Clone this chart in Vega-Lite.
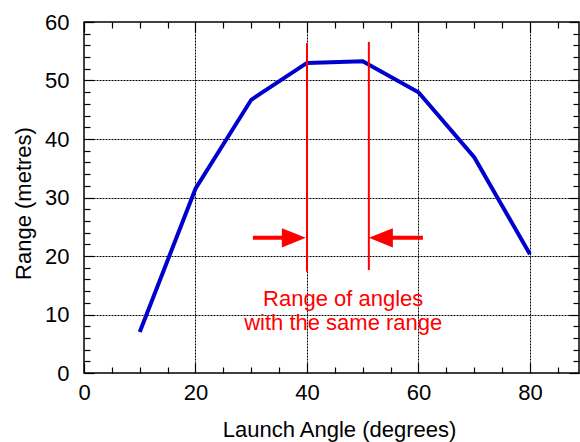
{
  "$schema": "https://vega.github.io/schema/vega-lite/v6.json",
  "width": 495,
  "height": 351,
  "autosize": {"type": "none"},
  "padding": {"left": 84, "top": 22, "right": 1, "bottom": 69},
  "config": {
    "view": {"stroke": "black", "strokeWidth": 1.5},
    "font": "Liberation Sans",
    "axis": {
      "domain": false,
      "tickColor": "black",
      "tickWidth": 1.2,
      "gridColor": "black",
      "gridDash": [2, 1],
      "gridWidth": 1,
      "labelFontSize": 22,
      "labelColor": "black",
      "titleFontSize": 22,
      "titleColor": "black",
      "titleFontWeight": "normal",
      "labelFlush": false,
      "labelOverlap": false
    }
  },
  "resolve": {"axis": {"x": "independent", "y": "independent"}},
  "layer": [
    {
      "data": {"values": [
        {"angle": 10, "range": 7.0},
        {"angle": 20, "range": 31.5},
        {"angle": 30, "range": 46.7},
        {"angle": 40, "range": 53.0},
        {"angle": 50, "range": 53.3},
        {"angle": 60, "range": 48.0},
        {"angle": 70, "range": 36.9},
        {"angle": 80, "range": 20.3}
      ]},
      "mark": {"type": "line", "color": "#0000cc", "strokeWidth": 4, "strokeJoin": "miter"},
      "encoding": {
        "x": {"field": "angle", "type": "quantitative",
          "scale": {"domain": [0, 88.8], "nice": false, "zero": false},
          "axis": {
            "orient": "bottom",
            "values": [0, 20, 40, 60, 80],
            "offset": -10,
            "tickSize": 10,
            "grid": false,
            "labelPadding": 9,
            "title": "Launch Angle (degrees)",
            "titleX": 255,
            "titleY": 73,
            "titleBaseline": "alphabetic",
            "titleAlign": "center"
          }},
        "y": {"field": "range", "type": "quantitative",
          "scale": {"domain": [0, 60], "nice": false},
          "axis": {
            "orient": "left",
            "values": [0, 10, 20, 30, 40, 50, 60],
            "offset": -10,
            "tickSize": 10,
            "grid": false,
            "labelPadding": 15,
            "title": "Range (metres)",
            "titleX": -64,
            "titleY": 181,
            "titleBaseline": "alphabetic",
            "titleAlign": "center",
            "titleAngle": -90
          }}
      }
    },
    {
      "data": {"values": [
        {"x": 40, "y": 17.3, "y2": 56.4},
        {"x": 51.1, "y": 17.6, "y2": 56.6}
      ]},
      "mark": {"type": "rule", "color": "#ff0000", "strokeWidth": 2},
      "encoding": {
        "x": {"field": "x", "type": "quantitative",
          "scale": {"domain": [0, 88.8], "nice": false, "zero": false},
          "axis": {
            "orient": "top",
            "values": [0, 20, 40, 60, 80],
            "offset": -10,
            "tickSize": 10,
            "labels": false,
            "grid": false,
            "title": null
          }},
        "y": {"field": "y", "type": "quantitative",
          "scale": {"domain": [0, 60], "nice": false},
          "axis": {
            "orient": "right",
            "values": [0, 10, 20, 30, 40, 50, 60],
            "offset": -10,
            "tickSize": 10,
            "labels": false,
            "grid": false,
            "title": null
          }},
        "y2": {"field": "y2"}
      }
    },
    {
      "data": {"values": [
        {"x": 30.3, "x2": 38, "y": 23.1},
        {"x": 60.8, "x2": 53, "y": 23.1}
      ]},
      "mark": {"type": "rule", "color": "#ff0000", "strokeWidth": 4},
      "encoding": {
        "x": {"field": "x", "type": "quantitative", "scale": {"domain": [0, 88.8], "nice": false, "zero": false},
          "axis": {
            "orient": "bottom",
            "values": [5,10,15,25,30,35,45,50,55,65,70,75,85],
            "offset": -6,
            "tickSize": 6,
            "labels": false,
            "grid": false,
            "title": null
          }},
        "x2": {"field": "x2"},
        "y": {"field": "y", "type": "quantitative", "scale": {"domain": [0, 60], "nice": false},
          "axis": {
            "orient": "left",
            "values": [2,4,6,8,12,14,16,18,22,24,26,28,32,34,36,38,42,44,46,48,52,54,56,58],
            "offset": -6,
            "tickSize": 6,
            "labels": false,
            "grid": false,
            "title": null
          }}
      }
    },
    {
      "data": {"values": [
        {"x": 39.8, "y": 23.1, "dir": "right"},
        {"x": 51.1, "y": 23.1, "dir": "left"}
      ]},
      "mark": {"type": "point", "filled": true, "color": "#ff0000", "opacity": 1, "size": 576, "strokeWidth": 0},
      "encoding": {
        "x": {"field": "x", "type": "quantitative", "scale": {"domain": [0, 88.8], "nice": false, "zero": false},
          "axis": {
            "orient": "top",
            "values": [5,10,15,25,30,35,45,50,55,65,70,75,85],
            "offset": -6,
            "tickSize": 6,
            "labels": false,
            "grid": false,
            "title": null
          }},
        "y": {"field": "y", "type": "quantitative", "scale": {"domain": [0, 60], "nice": false},
          "axis": {
            "orient": "right",
            "values": [2,4,6,8,12,14,16,18,22,24,26,28,32,34,36,38,42,44,46,48,52,54,56,58],
            "offset": -6,
            "tickSize": 6,
            "labels": false,
            "grid": false,
            "title": null
          }},
        "shape": {"field": "dir", "type": "nominal",
          "scale": {"domain": ["right", "left"], "range": ["M0,0L-2,-0.8L-2,0.8Z", "M0,0L2,-0.8L2,0.8Z"]},
          "legend": null}
      }
    },
    {
      "data": {"values": [
        {"x": 46.5, "y": 11.45, "label": ["Range of angles", "with the same range"]}
      ]},
      "mark": {"type": "text", "color": "#ff0000", "fontSize": 22, "align": "center", "baseline": "alphabetic", "lineHeight": 24},
      "encoding": {
        "x": {"field": "x", "type": "quantitative", "scale": {"domain": [0, 88.8], "nice": false, "zero": false},
          "axis": {
            "orient": "bottom",
            "values": [20, 40, 60, 80],
            "ticks": false,
            "labels": false,
            "grid": true,
            "title": null
          }},
        "y": {"field": "y", "type": "quantitative", "scale": {"domain": [0, 60], "nice": false},
          "axis": {
            "orient": "left",
            "values": [10, 20, 30, 40, 50],
            "ticks": false,
            "labels": false,
            "grid": true,
            "title": null
          }},
        "text": {"field": "label"}
      }
    }
  ]
}
